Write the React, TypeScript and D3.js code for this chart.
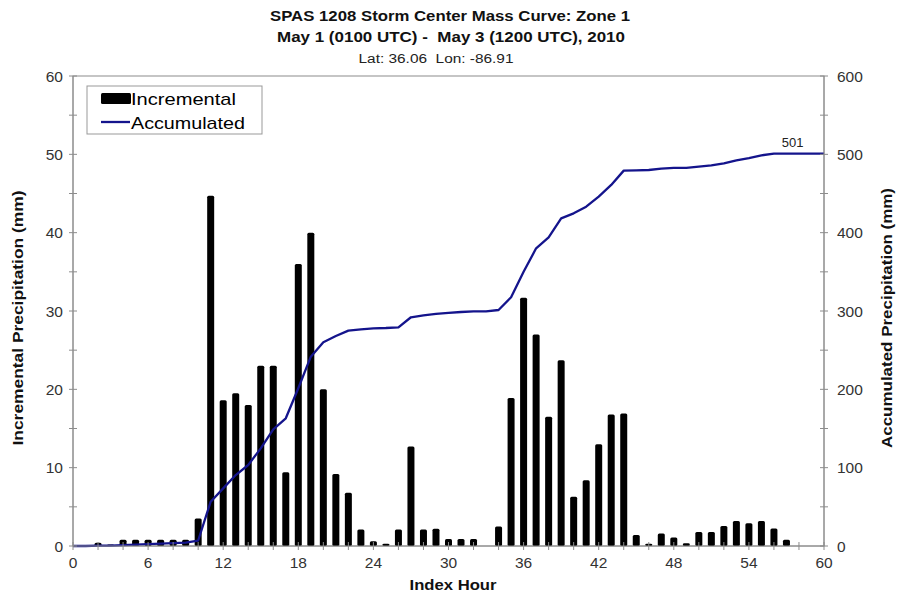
import React from 'react'
import * as d3 from 'd3'

// incremental precipitation (mm), one value per index hour 0..60
const incremental = [
  0, 0, 0.4, 0.2, 0.8, 0.8, 0.8, 0.8, 0.8, 0.8,
  3.5, 44.7, 18.6, 19.5, 18.0, 23.0, 23.0, 9.4, 36.0, 40.0,
  20.0, 9.2, 6.8, 2.1, 0.6, 0.3, 2.1, 12.7, 2.1, 2.2,
  0.9, 0.9, 0.9, 0, 2.5, 18.9, 31.7, 27.0, 16.5, 23.7,
  6.3, 8.4, 13.0, 16.8, 16.9, 1.4, 0.3, 1.6, 1.1, 0.35,
  1.8, 1.8, 2.55, 3.2, 2.9, 3.2, 2.25, 0.8, 0, 0,
  0,
]

// accumulated precipitation (mm), index hour 0..60
const accumulated = [
  0, 0, 0.4, 0.6, 1.2, 1.8, 2.4, 3.0, 3.6, 4.2,
  7.0, 56.6, 73.6, 90.6, 103.4, 124.7, 149, 163, 201.3, 241.7,
  260, 268, 274.9, 276.6, 277.9, 278.3, 279.2, 292, 294.5, 296.2,
  297.5, 298.7, 299.6, 299.6, 301.3, 317.5, 350, 380, 394, 418.3,
  424.7, 433.2, 446, 460.9, 479.2, 479.6, 480, 481.7, 482.6, 482.6,
  484.3, 486, 488.5, 492.3, 495.3, 498.7, 500.9, 501, 501, 501,
  501,
]

const xTickLabels = [0, 6, 12, 18, 24, 30, 36, 42, 48, 54, 60]
const leftTickLabels = [0, 10, 20, 30, 40, 50, 60]
const rightTickLabels = [0, 100, 200, 300, 400, 500, 600]

const titleLines = [
  'SPAS 1208 Storm Center Mass Curve: Zone 1',
  'May 1 (0100 UTC) -  May 3 (1200 UTC), 2010',
]
const subTitle = 'Lat: 36.06  Lon: -86.91'
const finalLabel = '501'

const W = 900
const H = 594
const [top, right, bottom, left] = [76, 824, 546, 73]
const font = '"Liberation Sans", Arial, sans-serif'
const axisColor = '#8c8c8c'
const lineColor = '#14148c'
const pre = { whiteSpace: 'pre' } as React.CSSProperties

export default function App() {
  const x = d3.scaleLinear().domain([0, 60]).range([left, right])
  const yL = d3.scaleLinear().domain([0, 60]).range([bottom, top])
  const yR = d3.scaleLinear().domain([0, 600]).range([bottom, top])

  const hours = incremental.map((_, i) => i)
  const barW = 7

  const line = d3.line<number>()
    .x((_, i) => x(i))
    .y(d => yR(d))

  const xMinor = d3.range(0, 61, 2)
  const leftMinor = d3.range(0, 61, 5)
  const rightMinor = d3.range(0, 601, 50)

  return (
    <svg width={W} height={H} style={{ position: 'absolute', left: 0, top: 0, background: '#fff' }}
      fontFamily={font}>
      {/* titles */}
      <text x={450} y={21} textAnchor="middle" fontSize={14.5} fontWeight="bold" fill="#111"
        textLength={360} lengthAdjust="spacingAndGlyphs" style={pre}>{titleLines[0]}</text>
      <text x={451} y={42} textAnchor="middle" fontSize={14.5} fontWeight="bold" fill="#111"
        textLength={348} lengthAdjust="spacingAndGlyphs" style={pre}>{titleLines[1]}</text>
      <text x={436} y={63} textAnchor="middle" fontSize={12.5} fill="#222"
        textLength={155} lengthAdjust="spacingAndGlyphs" style={pre}>{subTitle}</text>

      {/* plot frame */}
      <rect x={left} y={top} width={right - left} height={bottom - top} fill="none" stroke={axisColor} strokeWidth={1} />

      {/* bars */}
      {hours.filter(h => incremental[h] > 0).map(h => (
        <rect key={h} x={x(h) - barW / 2} y={yL(incremental[h])} width={barW}
          height={bottom - yL(incremental[h])} rx={1.5} fill="#000" />
      ))}

      {/* accumulated line */}
      <path d={line(accumulated) || ''} fill="none" stroke={lineColor} strokeWidth={2.3} strokeLinejoin="round" />
      <text x={x(57.5)} y={yR(501) - 7} textAnchor="middle" fontSize={13} fill="#222">{finalLabel}</text>

      {/* x axis */}
      <line x1={left} x2={right} y1={bottom} y2={bottom} stroke={axisColor} />
      {xMinor.map(v => (
        <line key={v} x1={x(v)} x2={x(v)} y1={bottom - 4} y2={bottom + 4} stroke={axisColor} />
      ))}
      {xTickLabels.map(v => (
        <text key={v} x={x(v)} y={bottom + 22} textAnchor="middle" fontSize={15.5} fill="#333">{v}</text>
      ))}
      <text x={453} y={590} textAnchor="middle" fontSize={14.5} fontWeight="bold" fill="#111"
        textLength={87} lengthAdjust="spacingAndGlyphs">Index Hour</text>

      {/* left axis */}
      <line x1={left} x2={left} y1={top} y2={bottom} stroke={axisColor} />
      {leftMinor.map(v => (
        <line key={v} x1={left - 4} x2={left + 4} y1={yL(v)} y2={yL(v)} stroke={axisColor} />
      ))}
      {leftTickLabels.map(v => (
        <text key={v} x={left - 10} y={yL(v) + 5.5} textAnchor="end" fontSize={15.5} fill="#333">{v}</text>
      ))}
      <text transform={`translate(23,${(top + bottom) / 2 + 7}) rotate(-90)`} textAnchor="middle"
        fontSize={14.5} fontWeight="bold" fill="#111" textLength={255}
        lengthAdjust="spacingAndGlyphs">Incremental Precipitation (mm)</text>

      {/* right axis */}
      <line x1={right} x2={right} y1={top} y2={bottom} stroke={axisColor} />
      {rightMinor.map(v => (
        <line key={v} x1={right - 4} x2={right + 4} y1={yR(v)} y2={yR(v)} stroke={axisColor} />
      ))}
      {rightTickLabels.map(v => (
        <text key={v} x={right + 13} y={yR(v) + 5.5} textAnchor="start" fontSize={15.5} fill="#333">{v}</text>
      ))}
      <text transform={`translate(892,${(top + bottom) / 2 + 7}) rotate(-90)`} textAnchor="middle"
        fontSize={14.5} fontWeight="bold" fill="#111" textLength={260}
        lengthAdjust="spacingAndGlyphs">Accumulated Precipitation (mm)</text>

      {/* legend */}
      <g>
        <rect x={87} y={86} width={175} height={48} fill="#fff" stroke="#999" />
        <rect x={101} y={93} width={30} height={11} rx={1.5} fill="#000" />
        <text x={131} y={105} fontSize={17} fill="#000" textLength={105}
          lengthAdjust="spacingAndGlyphs">Incremental</text>
        <line x1={101} x2={130} y1={122} y2={122} stroke={lineColor} strokeWidth={2.3} />
        <text x={131} y={129} fontSize={17} fill="#000" textLength={114}
          lengthAdjust="spacingAndGlyphs">Accumulated</text>
      </g>
    </svg>
  )
}
